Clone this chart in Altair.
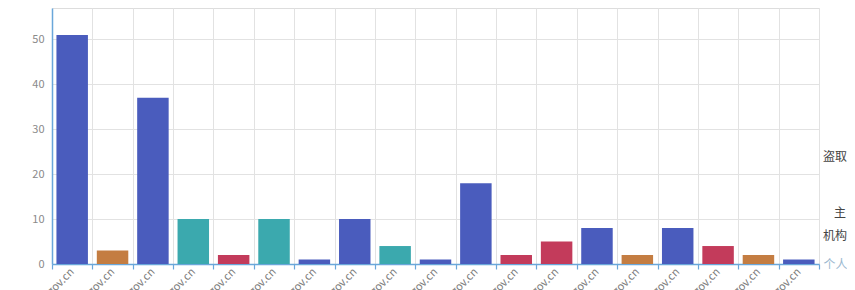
import altair as alt
import pandas as pd

# ---- data ----
sites = [
    "s01.gov.cn", "s02.gov.cn", "s03.gov.cn", "s04.gov.cn", "s05.gov.cn",
    "s06.gov.cn", "s07.gov.cn", "s08.gov.cn", "s09.gov.cn", "s10.gov.cn",
    "s11.gov.cn", "s12.gov.cn", "s13.gov.cn", "s14.gov.cn", "s15.gov.cn",
    "s16.gov.cn", "s17.gov.cn", "s18.gov.cn", "s19.gov.cn",
]
values = [51, 3, 37, 10, 2, 10, 1, 10, 4, 1, 18, 2, 5, 8, 2, 8, 4, 2, 1]
group_names = ["类型A", "类型B", "类型C", "类型D"]
group_index = [0, 1, 0, 2, 3, 2, 0, 0, 2, 0, 0, 3, 3, 0, 1, 0, 3, 1, 0]
group_colors = ["#4a5cbd", "#c47d42", "#3ba9ae", "#c33b5b"]
y_ticks = [0, 10, 20, 30, 40, 50]
x_axis_name = "个人"
side_texts = ["盗取", "主", "机构"]

df = pd.DataFrame({
    "site": sites,
    "count": values,
    "group": [group_names[g] for g in group_index],
})

AXIS_BLUE = "#6aa7da"
GRID = "#e2e2e2"
FONT = "Noto Sans CJK SC"

bars = alt.Chart(df).mark_bar(width=alt.RelativeBandSize(0.78)).encode(
    x=alt.X(
        "site:N",
        sort=sites,
        scale=alt.Scale(paddingInner=0, paddingOuter=0),
        axis=alt.Axis(
            title=x_axis_name,
            titleX=771, titleY=0, titleAlign="left", titleBaseline="middle",
            titleAngle=0, titleColor="#9bb8cf", titleFontSize=12,
            titleFontWeight="normal", titleFont=FONT,
            tickBand="extent",
            grid=True, gridColor=GRID, gridWidth=1,
            domainColor=AXIS_BLUE, domainWidth=1.5,
            tickColor=AXIS_BLUE, tickSize=5, tickWidth=1.2,
            labelAngle=315, labelAlign="right", labelBaseline="middle",
            labelPadding=1, labelColor="#7a7a7a", labelFontSize=11,
            labelFont=FONT,
        ),
    ),
    y=alt.Y(
        "count:Q",
        scale=alt.Scale(domain=[0, 57], nice=False, zero=True),
        axis=alt.Axis(
            title=None,
            values=y_ticks,
            grid=True, gridColor=GRID, gridWidth=1,
            domainColor=AXIS_BLUE, domainWidth=1.5,
            ticks=False, labelPadding=8,
            labelColor="#8a8a8a", labelFontSize=11, labelFont=FONT,
        ),
    ),
    color=alt.Color(
        "group:N",
        scale=alt.Scale(domain=group_names, range=group_colors),
        legend=None,
    ),
)


def side(label, px, py):
    return alt.Chart(pd.DataFrame({"t": [label]})).mark_text(
        align="left", baseline="middle", fontSize=12, font=FONT, color="#444444"
    ).encode(text="t:N", x=alt.value(px), y=alt.value(py))


chart = alt.layer(
    bars,
    side(side_texts[0], 771, 149),
    side(side_texts[1], 782, 205),
    side(side_texts[2], 771, 228),
).properties(
    width=767,
    height=256,
    autosize=alt.AutoSizeParams(type="none"),
    padding={"left": 44, "top": 0, "right": 28, "bottom": 26},
).configure_view(
    stroke="#dddddd", strokeWidth=1
)

chart.save("out.html", embed_options={"renderer": "svg", "actions": False})
